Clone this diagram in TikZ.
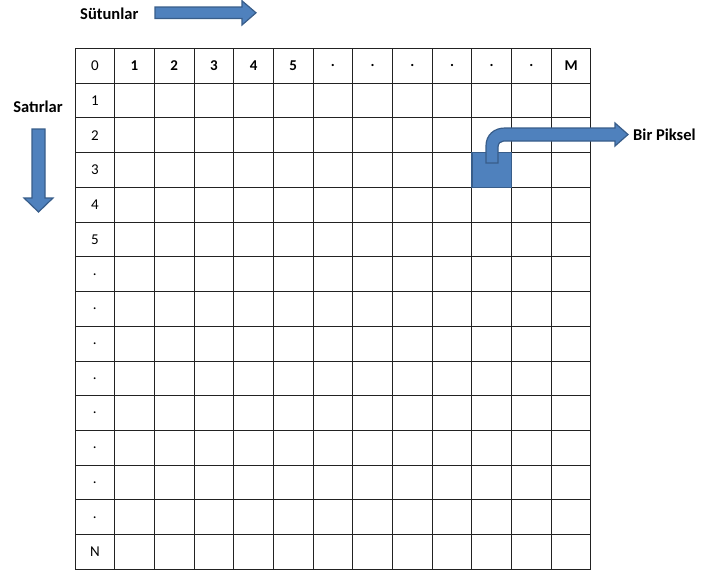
\documentclass[tikz,border=0pt]{standalone}
\usepackage{fontspec}
\setmainfont{Carlito}
\definecolor{ablue}{HTML}{4F81BD}
\definecolor{aedge}{HTML}{385D8A}
\definecolor{gridc}{HTML}{222222}
\begin{document}
\begin{tikzpicture}[x=1pt,y=-1pt,
  lbl/.style={font=\fontsize{16.5}{19}\selectfont\bfseries, inner sep=0pt},
  cellb/.style={font=\fontsize{15}{17}\selectfont\bfseries, inner sep=0pt},
  cellr/.style={font=\fontsize{15}{17}\selectfont, inner sep=0pt},
  blockarrow/.style={fill=ablue, draw=aedge, line width=1.2pt, line join=miter},
  gridline/.style={draw=gridc, line width=1pt}]
\useasboundingbox (0,0) rectangle (704,571);
\def\xo{75}\def\dx{39.69}\def\yo{48.5}\def\dy{34.73}
% grid
\foreach \i in {0,...,13} {\draw[gridline] ({\xo+\i*\dx},\yo) -- ({\xo+\i*\dx},{\yo+15*\dy});}
\foreach \j in {0,...,15} {\draw[gridline] (\xo,{\yo+\j*\dy}) -- ({\xo+13*\dx},{\yo+\j*\dy});}
% header row
\node[cellr] (c0) at ({\xo+0.5*\dx},{\yo+0.5*\dy}) {0};
\foreach \t [count=\i] in {1,2,3,4,5,.,.,.,.,.,.,M} {
  \node[cellb] (h\i) at ({\xo+(\i+0.5)*\dx},{\yo+0.5*\dy}) {\t};
}
\foreach \t [count=\j] in {1,2,3,4,5,.,.,.,.,.,.,.,.,N} {
  \node[cellr] (r\j) at ({\xo+0.5*\dx},{\yo+(\j+0.5)*\dy}) {\t};
}
% labels
\node[lbl, anchor=west] (sut) at (80,14) {Sütunlar};
\node[lbl] (sat) at (38,107) {Satırlar};
\node[lbl, anchor=west] (bir) at (633,134.5) {Bir Piksel};
% right arrow
\draw[blockarrow] (155,7) -- (242,7) -- (242,0.8) -- (256,12.8) -- (242,25) -- (242,18.5) -- (155,18.5) -- cycle;
% down arrow
\draw[blockarrow] (32,129) -- (45,129) -- (45,198) -- (53,198) -- (38.5,212) -- (24,198) -- (32,198) -- cycle;
% pixel
\draw[blockarrow] ({\xo+10*\dx},{\yo+3*\dy}) rectangle ({\xo+11*\dx},{\yo+4*\dy});
% bent arrow
\draw[blockarrow] (486,163) -- (486,146) .. controls (486,135) and (494,128) .. (505,128)
  -- (615,128) -- (615,123) -- (628,134.5) -- (615,146) -- (615,141) -- (503.5,141)
  .. controls (500.5,141) and (498,143.5) .. (498,147) -- (498,163) -- cycle;
\end{tikzpicture}
\end{document}
